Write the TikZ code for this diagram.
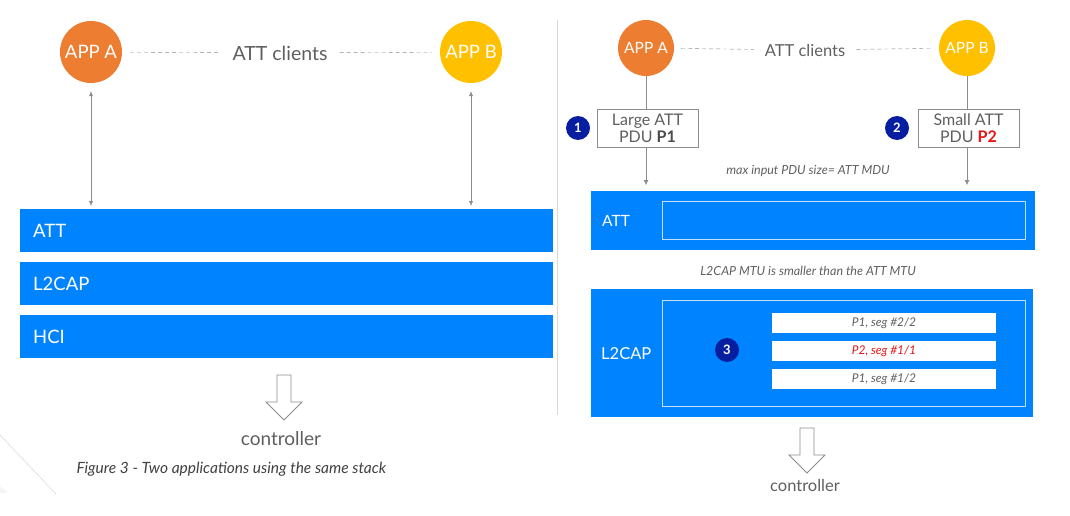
\documentclass[tikz,border=0pt]{standalone}
\usepackage{fontspec}
\setmainfont{Lato}
\usetikzlibrary{arrows.meta,positioning}

\definecolor{barblue}{RGB}{0,131,255}
\definecolor{apporange}{RGB}{237,125,49}
\definecolor{appyellow}{RGB}{255,192,0}
\definecolor{badgenavy}{RGB}{8,30,160}
\definecolor{txtgray}{RGB}{95,95,95}
\definecolor{linegray}{RGB}{140,140,140}
\definecolor{segred}{RGB}{230,20,20}

\tikzset{
  app/.style={circle, inner sep=0pt, text=white},
  layer/.style={fill=barblue, inner sep=0pt, anchor=north west, text=white, align=left},
  pdubox/.style={draw=linegray, thin, fill=white, text=txtgray, align=center,
                 minimum width=101pt, minimum height=38pt, inner sep=0pt,
                 font=\fontsize{16}{17}\selectfont},
  badge/.style={circle, fill=badgenavy, text=white, minimum size=24pt, inner sep=0pt,
                font=\fontsize{13}{13}\selectfont\bfseries},
  inbox/.style={draw=white!75!barblue, thin, inner sep=0pt, anchor=north west},
  seg/.style={fill=white, minimum width=224pt, minimum height=20pt, inner sep=0pt,
              font=\fontsize{12}{12}\selectfont\itshape, text=txtgray},
  dashline/.style={dashed, dash pattern=on 4pt off 3pt, linegray, thin},
  hollow/.style={draw=linegray, line width=0.8pt, fill=white, line join=miter},
  note/.style={text=txtgray, font=\fontsize{12.5}{13}\selectfont\itshape}
}

\newcommand{\hollowdown}[1]{%
  \draw[hollow] (#1) ++(-7,0) -- ++(0,27) -- ++(-11,0) -- ++(18,18)
    -- ++(18,-18) -- ++(-11,0) -- ++(0,-27) -- cycle;}

\begin{document}
\begin{tikzpicture}[x=1pt,y=-1pt]
\useasboundingbox (0,0) rectangle (1070,516);

% faint corner line of the slide
\fill[black!4] (0,486) -- (8,493) -- (0,493) -- cycle;
\draw[black!18, thin] (0,435) -- (56,494);

% divider
\draw[black!15, line width=0.8pt] (557,20) -- (557,415);

%%% left: two applications, one stack
\node (appLA) [app, fill=apporange, minimum size=62pt, font=\fontsize{18.5}{20}\selectfont] at (91,52) {APP A};
\node (appLB) [app, fill=appyellow, minimum size=62pt, font=\fontsize{18.5}{20}\selectfont] at (471,52) {APP B};
\node (clientsL) [text=txtgray, inner xsep=12pt, font=\fontsize{19.5}{21}\selectfont] at (280,53) {ATT clients};
\draw[dashline, shorten <=8pt] (appLA) -- (clientsL);
\draw[dashline, shorten >=8pt] (clientsL) -- (appLB);

\node (attL) [layer, minimum height=43pt, text width=507pt, inner xsep=13pt,
              font=\fontsize{18.5}{20}\selectfont] at (20,209) {ATT};
\node (l2capL) [layer, minimum height=43pt, text width=507pt, inner xsep=13pt,
                font=\fontsize{18.5}{20}\selectfont] at (20,262) {L2CAP};
\node (hciL) [layer, minimum height=43pt, text width=507pt, inner xsep=13pt,
              font=\fontsize{18.5}{20}\selectfont] at (20,315) {HCI};

\draw[{Latex[length=5pt,width=4pt]}-{Latex[length=5pt,width=4pt]}, linegray, thin,
      shorten <=8pt, shorten >=3pt] (appLA) -- (appLA |- attL.north);
\draw[{Latex[length=5pt,width=4pt]}-{Latex[length=5pt,width=4pt]}, linegray, thin,
      shorten <=8pt, shorten >=3pt] (appLB) -- (appLB |- attL.north);

\coordinate (ctrlarrowL) at (284,375);
\hollowdown{ctrlarrowL}
\node (ctrlL) [text=txtgray, font=\fontsize{19}{20}\selectfont] at (281,439) {controller};
\node (caption) [anchor=west, text=black!75, font=\fontsize{15.5}{17}\selectfont\itshape]
      at (73,469) {Figure 3 - Two applications using the same stack};

%%% right: segmentation in L2CAP
\node (appRA) [app, fill=apporange, minimum size=56pt, font=\fontsize{15.5}{18}\selectfont] at (646,48) {APP A};
\node (appRB) [app, fill=appyellow, minimum size=56pt, font=\fontsize{15.5}{18}\selectfont] at (967,48) {APP B};
\node (clientsR) [text=txtgray, inner xsep=11pt, font=\fontsize{16.5}{18}\selectfont] at (805,50) {ATT clients};
\draw[dashline, shorten <=7pt] (appRA) -- (clientsR);
\draw[dashline, shorten >=7pt] (clientsR) -- (appRB);

\node (pdu1) [pdubox] at (647.5,128) {Large ATT\\PDU \textbf{\color{black!70}P1}};
\node (pdu2) [pdubox] at (968.5,128) {Small ATT\\PDU \textbf{\color{segred}P2}};
\node (badge1) [badge] at (578,128) {1};
\node (badge2) [badge] at (897,128) {2};

\node (attR) [layer, minimum height=59pt, text width=422pt, inner xsep=11pt,
              font=\fontsize{15.5}{18}\selectfont] at (591,191) {ATT};
\node (attRin) [inbox, minimum width=363pt, minimum height=38pt] at (662,201) {};

\draw[linegray, thin] (appRA) -- (appRA |- pdu1.north);
\draw[linegray, thin] (appRB) -- (appRB |- pdu2.north);
\draw[-{Latex[length=5pt,width=5pt]}, linegray, thin, shorten >=6pt]
      (appRA |- pdu1.south) -- (appRA |- attR.north);
\draw[-{Latex[length=5pt,width=5pt]}, linegray, thin, shorten >=6pt]
      (appRB |- pdu2.south) -- (appRB |- attR.north);

\node (maxnote) [note] at (808,171) {max input PDU size= ATT MDU};
\node (mtunote) [note] at (808,271) {L2CAP MTU is smaller than the ATT MTU};

\node (l2capR) [layer, minimum height=128pt, text width=422pt, inner xsep=10pt,
                font=\fontsize{16.5}{18}\selectfont] at (591,289) {L2CAP};
\node (l2capRin) [inbox, minimum width=363pt, minimum height=106pt] at (662,300) {};
\node (badge3) [badge] at (727,350) {3};
\node (seg22) [seg] at (884,323) {P1, seg \#2/2};
\node (seg11) [seg, text=segred] at (884,351) {P2, seg \#1/1};
\node (seg12) [seg] at (884,379) {P1, seg \#1/2};

\coordinate (ctrlarrowR) at (807,428);
\hollowdown{ctrlarrowR}
\node (ctrlR) [text=txtgray, font=\fontsize{16.5}{18}\selectfont] at (805,485) {controller};

\end{tikzpicture}
\end{document}
